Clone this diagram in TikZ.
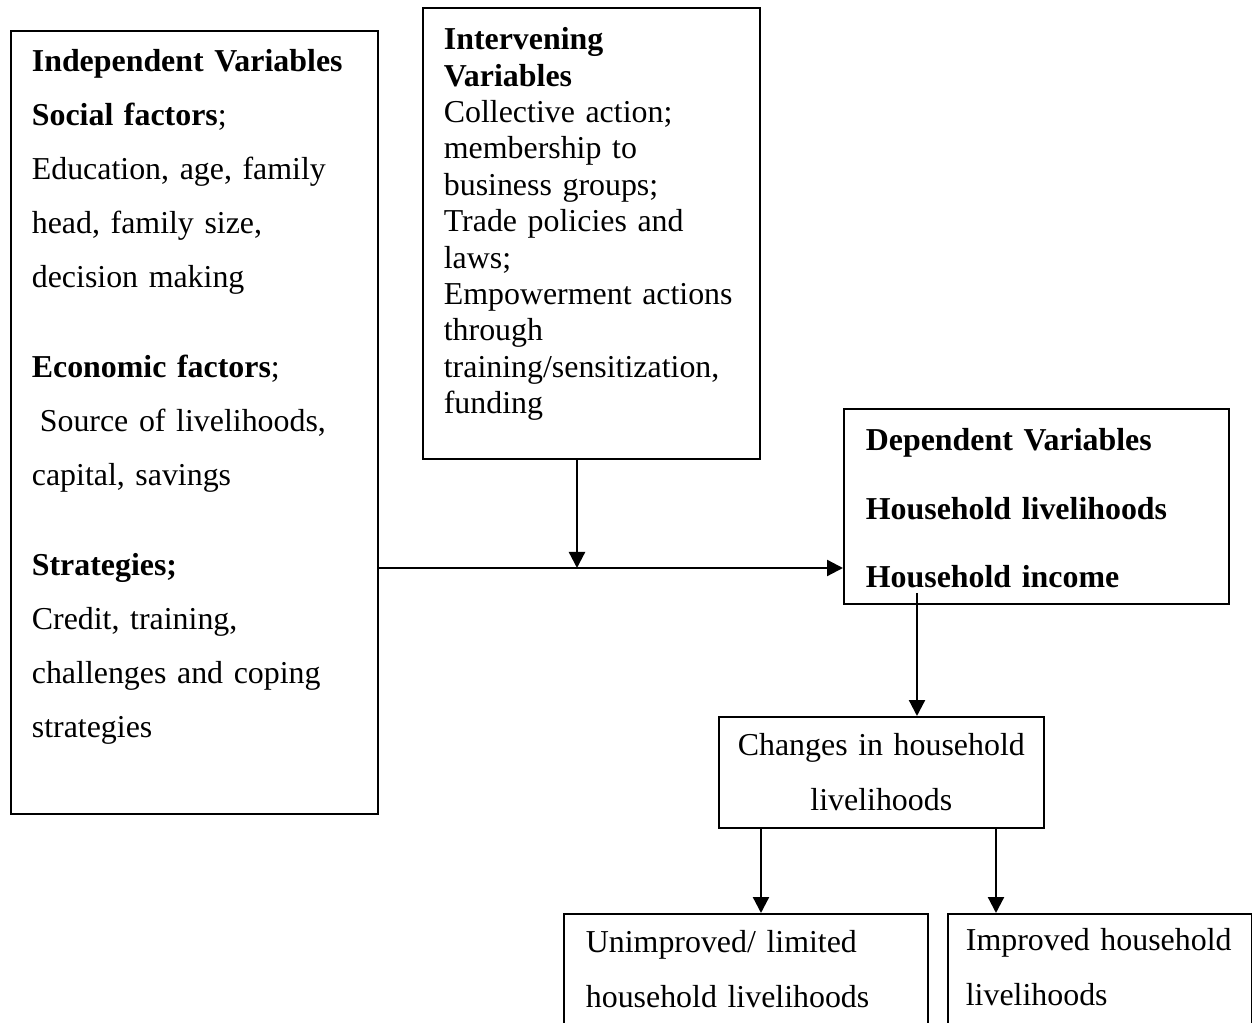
\documentclass[tikz,border=0pt]{standalone}
\usepackage{fontspec}
\setmainfont{Liberation Serif}
\usetikzlibrary{arrows.meta,calc}

\begin{document}
\begin{tikzpicture}[
  x=0.02cm, y=-0.02cm,
  box/.style={draw, line width=1pt, anchor=north west, align=left, text height=0.44cm},
  line/.style={-{Triangle[length=0.32cm, width=0.32cm]}, line width=1.3pt}
]
\useasboundingbox (0,0) rectangle (1252,1023);

\node[box, font=\fontsize{18.15}{30.7}\selectfont, inner xsep=0.42cm, inner ysep=0.38cm, text width=6.5cm, text depth=14.46cm] (indep) at (10,30)
  {\textbf{Independent Variables}\\
   \textbf{Social factors};\\
   Education, age, family\\
   head, family size,\\
   decision making\\[0.72cm]
   \textbf{Economic factors};\\
   \hspace*{0.25em}Source of livelihoods,\\
   capital, savings\\[0.72cm]
   \textbf{Strategies;}\\
   Credit, training,\\
   challenges and coping\\
   strategies};
\node[box, font=\fontsize{18.15}{20.7}\selectfont, inner xsep=0.42cm, inner ysep=0.4cm, text width=5.9cm, text depth=7.78cm] (interv) at (422,7)
  {\textbf{Intervening}\\
   \textbf{Variables}\\
   Collective action;\\
   membership to\\
   business groups;\\
   Trade policies and\\
   laws;\\
   Empowerment actions\\
   through\\
   training/sensitization,\\
   funding};
\node[box, font=\fontsize{18.15}{39}\selectfont\bfseries, inner xsep=0.44cm, inner ysep=0.4cm, text width=6.82cm, text depth=2.66cm] (dep) at (843,408)
  {Dependent Variables\\
   Household livelihoods\\
   Household income};
\node[box, font=\fontsize{18.15}{31.3}\selectfont, align=center, inner xsep=0.3cm, inner ysep=0.34cm, text width=5.9cm, text depth=1.1cm] (chg) at (718,716)
  {Changes in household\\
   livelihoods};
\node[box, font=\fontsize{18.15}{31.3}\selectfont, inner xsep=0.44cm, inner ysep=0.34cm, text width=6.4cm, text depth=3cm] (unimp) at (563,913)
  {Unimproved/ limited\\
   household livelihoods};
\node[box, font=\fontsize{18.15}{31.3}\selectfont, inner xsep=0.36cm, inner ysep=0.3cm, text width=5.36cm, text depth=3cm] (impr) at (947,913)
  {Improved household\\
   livelihoods};

\coordinate (merge) at (577,568);
\coordinate (depout) at (917,593);

\draw[line] (indep.east |- merge) -- (dep.west |- merge);
\draw[line] (interv.south -| merge) -- (merge);
\draw[line] (depout) -- (depout |- chg.north);
\draw[line] ($(chg.south west)+(43,0)$) -- ($(unimp.north west)+(198,0)$);
\draw[line] ($(chg.south west)+(278,0)$) -- ($(impr.north west)+(49,0)$);
\end{tikzpicture}
\end{document}
